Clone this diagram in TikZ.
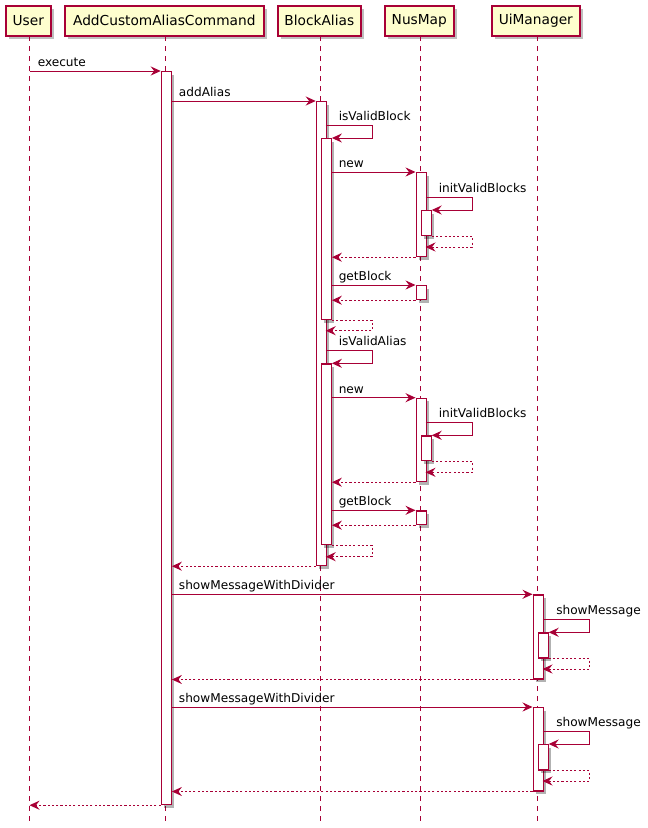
\documentclass[tikz,border=0pt]{standalone}
\usepackage{fontspec}
\setmainfont{DejaVu Sans}
\usetikzlibrary{arrows.meta,shadows}
\definecolor{pumlred}{HTML}{A80036}
\definecolor{pumlfill}{HTML}{FEFECE}
\tikzset{
  x=0.75pt, y=-0.75pt,
  partbox/.style={draw=pumlred, line width=1.2pt, fill=pumlfill, inner sep=0pt, anchor=north west,
    font=\fontsize{10.3}{12}\selectfont,
    drop shadow={shadow xshift=2.5pt, shadow yshift=-2.5pt, fill=black, opacity=.25}},
  lifeline/.style={draw=pumlred, line width=0.75pt, dash pattern=on 3.75pt off 3.75pt},
  actbox/.style={draw=pumlred, line width=0.9pt, fill=white, inner sep=0pt, minimum width=7.5pt, anchor=north west,
    drop shadow={shadow xshift=2.2pt, shadow yshift=-2.2pt, fill=black, opacity=.3}},
  msg/.style={draw=pumlred, line width=0.75pt, -{Stealth[length=7.5pt, width=6.8pt, inset=2.6pt]}},
  ret/.style={msg, dash pattern=on 1.6pt off 1.6pt},
  lbl/.style={anchor=base west, inner sep=0pt, font=\fontsize{9.1}{11}\selectfont}
}
\newcommand{\actbar}[4]{\node[actbox, minimum height={(#4-#3)*0.75pt}] (#1) at (#2,#3) {};}
\begin{document}
\begin{tikzpicture}
\useasboundingbox (0,0) rectangle (647,828);
% participants
\node[partbox, minimum width={45*0.75pt}, minimum height={30*0.75pt}] (pU) at (5,5) {User};
\node[partbox, minimum width={199*0.75pt}, minimum height={30*0.75pt}] (pA) at (64,5) {AddCustomAliasCommand};
\node[partbox, minimum width={83*0.75pt}, minimum height={30*0.75pt}] (pB) at (277,5) {BlockAlias};
\node[partbox, minimum width={69*0.75pt}, minimum height={30*0.75pt}] (pN) at (384,5) {NusMap};
\node[partbox, minimum width={88*0.75pt}, minimum height={30*0.75pt}] (pM) at (491,5) {UiManager};
% lifelines
\coordinate (lU) at (29.5,36); \coordinate (lUe) at (29.5,822);
\coordinate (lA) at (165.7,36); \coordinate (lAe) at (165.7,822);
\coordinate (lB) at (320.7,36); \coordinate (lBe) at (320.7,822);
\coordinate (lN) at (420.5,36); \coordinate (lNe) at (420.5,822);
\coordinate (lM) at (537.5,36); \coordinate (lMe) at (537.5,822);
\draw[lifeline] (lU) -- (lUe);
\draw[lifeline] (lA) -- (lAe);
\draw[lifeline] (lB) -- (lBe);
\draw[lifeline] (lN) -- (lNe);
\draw[lifeline] (lM) -- (lMe);
% activations
\actbar{A1}{160.7}{71}{804}
\actbar{B1}{315.7}{101}{565}
\actbar{B2}{320.7}{138}{319}
\actbar{N1}{415.5}{172}{256}
\actbar{N2}{420.5}{210}{235}
\actbar{N3}{415.5}{285}{299}
\actbar{B3}{320.7}{363.3}{544}
\actbar{N4}{415.5}{397.7}{481}
\actbar{N5}{420.5}{435.3}{460}
\actbar{N6}{415.5}{510.3}{524}
\actbar{U1}{532.5}{594.3}{678.3}
\actbar{U2}{537.5}{632.3}{657.3}
\actbar{U3}{532.5}{707}{790.3}
\actbar{U4}{537.5}{744}{769.3}
% self-loop turning points
\coordinate (sB) at (372,0);
\coordinate (sN) at (472.3,0);
\coordinate (sM) at (589.3,0);
% execute
\draw[msg] (lU |- A1.north) -- (A1.north west);
\node[lbl] (t1) at (37.5,66.5) {execute};
% addAlias
\draw[msg] (A1.east |- B1.north) -- (B1.north west);
\node[lbl] (t2) at (178.7,96.5) {addAlias};
% isValidBlock
\coordinate (c3) at (325.7,125.3);
\draw[msg] (c3) -| (sB |- B2.north) -- (B2.north east);
\node[lbl] (t3) at (338.5,120.3) {isValidBlock};
% new
\draw[msg] (B2.east |- N1.north) -- (N1.north west);
\node[lbl] (t4) at (338.5,167.5) {new};
% initValidBlocks
\coordinate (c5) at (425.5,197.7);
\draw[msg] (c5) -| (sN |- N2.north) -- (N2.north east);
\node[lbl] (t5) at (438.5,192.7) {initValidBlocks};
\coordinate (c6) at (425.5,247);
\draw[ret] (N2.south east) -| (sN |- c6) -- (c6);
\draw[ret] (N1.south west) -- (B2.east |- N1.south);
% getBlock
\draw[msg] (B2.east |- N3.north) -- (N3.north west);
\node[lbl] (t8) at (338.5,280.5) {getBlock};
\draw[ret] (N3.south west) -- (B2.east |- N3.south);
\coordinate (c10) at (325.7,330.7);
\draw[ret] (B2.south east) -| (sB |- c10) -- (c10);
% isValidAlias
\coordinate (c11) at (325.7,350.7);
\draw[msg] (c11) -| (sB |- B3.north) -- (B3.north east);
\node[lbl] (t11) at (338.5,345.7) {isValidAlias};
\draw[msg] (B3.east |- N4.north) -- (N4.north west);
\node[lbl] (t12) at (338.5,393.2) {new};
\coordinate (c13) at (425.5,422.7);
\draw[msg] (c13) -| (sN |- N5.north) -- (N5.north east);
\node[lbl] (t13) at (438.5,417.7) {initValidBlocks};
\coordinate (c14) at (425.5,472.3);
\draw[ret] (N5.south east) -| (sN |- c14) -- (c14);
\draw[ret] (N4.south west) -- (B3.east |- N4.south);
\draw[msg] (B3.east |- N6.north) -- (N6.north west);
\node[lbl] (t16) at (338.5,505.8) {getBlock};
\draw[ret] (N6.south west) -- (B3.east |- N6.south);
\coordinate (c18) at (325.7,556.7);
\draw[ret] (B3.south east) -| (sB |- c18) -- (c18);
\draw[ret] (B1.south west) -- (A1.east |- B1.south);
% showMessageWithDivider 1
\draw[msg] (A1.east |- U1.north) -- (U1.north west);
\node[lbl] (t20) at (178.7,589.6) {showMessageWithDivider};
\coordinate (c21) at (542.5,619.3);
\draw[msg] (c21) -| (sM |- U2.north) -- (U2.north east);
\node[lbl] (t21) at (556,614.3) {showMessage};
\coordinate (c22) at (542.5,669);
\draw[ret] (U2.south east) -| (sM |- c22) -- (c22);
\draw[ret] (U1.south west) -- (A1.east |- U1.south);
% showMessageWithDivider 2
\draw[msg] (A1.east |- U3.north) -- (U3.north west);
\node[lbl] (t24) at (178.7,702.3) {showMessageWithDivider};
\coordinate (c25) at (542.5,731.7);
\draw[msg] (c25) -| (sM |- U4.north) -- (U4.north east);
\node[lbl] (t25) at (556,726.7) {showMessage};
\coordinate (c26) at (542.5,781);
\draw[ret] (U4.south east) -| (sM |- c26) -- (c26);
\draw[ret] (U3.south west) -- (A1.east |- U3.south);
% final return
\draw[ret] (A1.south west) -- (lU |- A1.south);
\end{tikzpicture}
\end{document}
